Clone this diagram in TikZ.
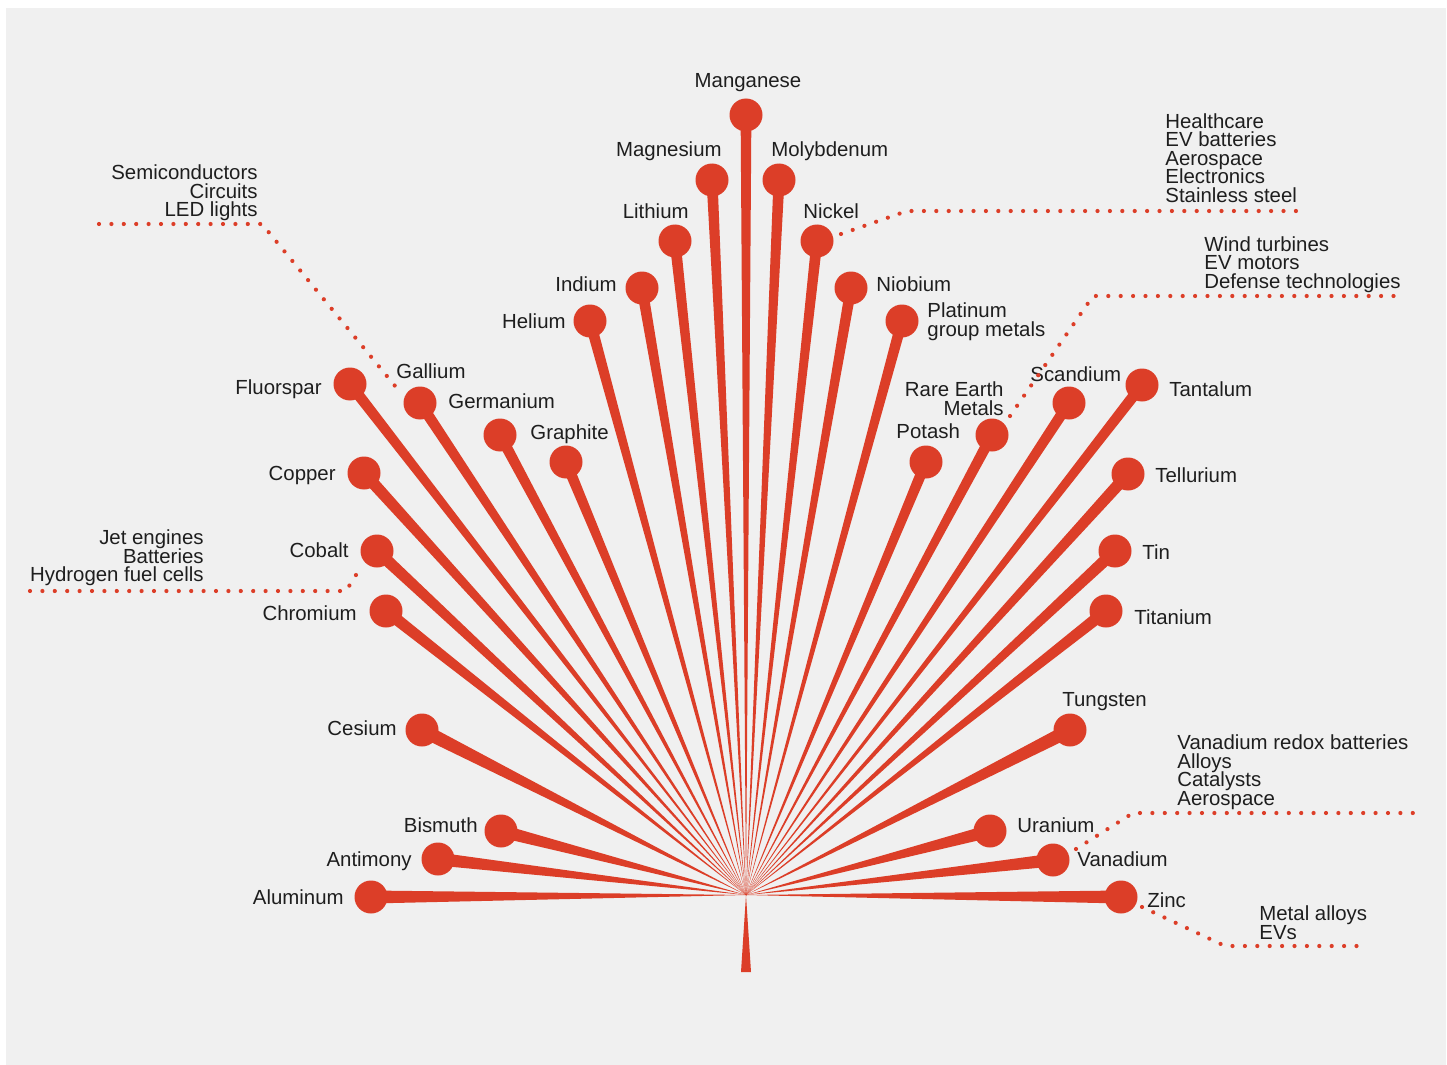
\documentclass[tikz,border=0pt]{standalone}
\usepackage{fontspec}
\setmainfont{Liberation Sans}
\usetikzlibrary{calc}
\definecolor{leafred}{RGB}{220,62,40}
\definecolor{paper}{RGB}{240,240,240}
\definecolor{ink}{RGB}{30,30,30}
\newcommand\leaffont{\fontsize{10.2pt}{9.3pt}\selectfont\lineskiplimit=-20pt\relax}

\begin{document}
\begin{tikzpicture}[x=0.5pt,y=-0.5pt,
  dot/.style={circle,fill=leafred,inner sep=0pt,minimum size=16.5pt},
  ray/.style={fill=leafred},
  lbl/.style={text=ink,inner sep=0pt,font=\leaffont},
  leader/.style={leafred,line width=2.1pt,line cap=round,dash pattern=on 0pt off 6.2pt}]
\useasboundingbox (0,0) rectangle (1447,1065);
\fill[white] (0,0) rectangle (1447,1065);
\fill[paper] (6,8) rectangle (1446,1065);

\coordinate (hub) at (746,895);
\fill[ray] (hub) -- (741,972) -- (751,972) -- cycle;

\node[dot] (mn) at (746,115) {};
\node[dot] (mg) at (712,180) {};
\node[dot] (mo) at (779,180) {};
\node[dot] (li) at (675,241) {};
\node[dot] (ni) at (817,241) {};
\node[dot] (ind) at (642,288) {};
\node[dot] (nb) at (851,288) {};
\node[dot] (he) at (590,321) {};
\node[dot] (pgm) at (902,321) {};
\node[dot] (fl) at (350,384) {};
\node[dot] (ga) at (420,403) {};
\node[dot] (ge) at (500,435) {};
\node[dot] (gr) at (566,462) {};
\node[dot] (cu) at (364,473) {};
\node[dot] (co) at (377,551) {};
\node[dot] (cr) at (386,611) {};
\node[dot] (cs) at (422,730) {};
\node[dot] (bi) at (501,831) {};
\node[dot] (sb) at (438,859) {};
\node[dot] (al) at (371,897) {};
\node[dot] (k) at (926,462) {};
\node[dot] (ree) at (992,435) {};
\node[dot] (sc) at (1069,403) {};
\node[dot] (ta) at (1142,385) {};
\node[dot] (te) at (1128,474) {};
\node[dot] (sn) at (1115,551) {};
\node[dot] (ti) at (1106,611) {};
\node[dot] (w) at (1070,730) {};
\node[dot] (u) at (990,831) {};
\node[dot] (v) at (1053,860) {};
\node[dot] (zn) at (1121,897) {};

\fill[ray] (hub) -- ($(mn.center)!2.7pt!90:(hub)$) -- ($(mn.center)!2.7pt!-90:(hub)$) -- cycle;
\fill[ray] (hub) -- ($(mg.center)!2.75pt!90:(hub)$) -- ($(mg.center)!2.75pt!-90:(hub)$) -- cycle;
\fill[ray] (hub) -- ($(mo.center)!2.75pt!90:(hub)$) -- ($(mo.center)!2.75pt!-90:(hub)$) -- cycle;
\fill[ray] (hub) -- ($(li.center)!2.75pt!90:(hub)$) -- ($(li.center)!2.75pt!-90:(hub)$) -- cycle;
\fill[ray] (hub) -- ($(ni.center)!2.75pt!90:(hub)$) -- ($(ni.center)!2.75pt!-90:(hub)$) -- cycle;
\fill[ray] (hub) -- ($(ind.center)!2.75pt!90:(hub)$) -- ($(ind.center)!2.75pt!-90:(hub)$) -- cycle;
\fill[ray] (hub) -- ($(nb.center)!2.75pt!90:(hub)$) -- ($(nb.center)!2.75pt!-90:(hub)$) -- cycle;
\fill[ray] (hub) -- ($(he.center)!2.75pt!90:(hub)$) -- ($(he.center)!2.75pt!-90:(hub)$) -- cycle;
\fill[ray] (hub) -- ($(pgm.center)!2.75pt!90:(hub)$) -- ($(pgm.center)!2.75pt!-90:(hub)$) -- cycle;
\fill[ray] (hub) -- ($(fl.center)!2.75pt!90:(hub)$) -- ($(fl.center)!2.75pt!-90:(hub)$) -- cycle;
\fill[ray] (hub) -- ($(ga.center)!2.75pt!90:(hub)$) -- ($(ga.center)!2.75pt!-90:(hub)$) -- cycle;
\fill[ray] (hub) -- ($(ge.center)!2.75pt!90:(hub)$) -- ($(ge.center)!2.75pt!-90:(hub)$) -- cycle;
\fill[ray] (hub) -- ($(gr.center)!2.75pt!90:(hub)$) -- ($(gr.center)!2.75pt!-90:(hub)$) -- cycle;
\fill[ray] (hub) -- ($(cu.center)!3pt!90:(hub)$) -- ($(cu.center)!3pt!-90:(hub)$) -- cycle;
\fill[ray] (hub) -- ($(co.center)!3pt!90:(hub)$) -- ($(co.center)!3pt!-90:(hub)$) -- cycle;
\fill[ray] (hub) -- ($(cr.center)!3pt!90:(hub)$) -- ($(cr.center)!3pt!-90:(hub)$) -- cycle;
\fill[ray] (hub) -- ($(cs.center)!3.5pt!90:(hub)$) -- ($(cs.center)!3.5pt!-90:(hub)$) -- cycle;
\fill[ray] (hub) -- ($(bi.center)!3.25pt!90:(hub)$) -- ($(bi.center)!3.25pt!-90:(hub)$) -- cycle;
\fill[ray] (hub) -- ($(sb.center)!3.25pt!90:(hub)$) -- ($(sb.center)!3.25pt!-90:(hub)$) -- cycle;
\fill[ray] (hub) -- ($(al.center)!3.25pt!90:(hub)$) -- ($(al.center)!3.25pt!-90:(hub)$) -- cycle;
\fill[ray] (hub) -- ($(k.center)!2.75pt!90:(hub)$) -- ($(k.center)!2.75pt!-90:(hub)$) -- cycle;
\fill[ray] (hub) -- ($(ree.center)!2.75pt!90:(hub)$) -- ($(ree.center)!2.75pt!-90:(hub)$) -- cycle;
\fill[ray] (hub) -- ($(sc.center)!2.75pt!90:(hub)$) -- ($(sc.center)!2.75pt!-90:(hub)$) -- cycle;
\fill[ray] (hub) -- ($(ta.center)!2.75pt!90:(hub)$) -- ($(ta.center)!2.75pt!-90:(hub)$) -- cycle;
\fill[ray] (hub) -- ($(te.center)!3pt!90:(hub)$) -- ($(te.center)!3pt!-90:(hub)$) -- cycle;
\fill[ray] (hub) -- ($(sn.center)!3pt!90:(hub)$) -- ($(sn.center)!3pt!-90:(hub)$) -- cycle;
\fill[ray] (hub) -- ($(ti.center)!3pt!90:(hub)$) -- ($(ti.center)!3pt!-90:(hub)$) -- cycle;
\fill[ray] (hub) -- ($(w.center)!3.5pt!90:(hub)$) -- ($(w.center)!3.5pt!-90:(hub)$) -- cycle;
\fill[ray] (hub) -- ($(u.center)!3.25pt!90:(hub)$) -- ($(u.center)!3.25pt!-90:(hub)$) -- cycle;
\fill[ray] (hub) -- ($(v.center)!3.25pt!90:(hub)$) -- ($(v.center)!3.25pt!-90:(hub)$) -- cycle;
\fill[ray] (hub) -- ($(zn.center)!3.25pt!90:(hub)$) -- ($(zn.center)!3.25pt!-90:(hub)$) -- cycle;

\node[lbl,anchor=base] (mn-t) at (748,88) {Manganese};
\node[lbl,anchor=base east] (mg-t) at (722,156) {Magnesium};
\node[lbl,anchor=base west] (mo-t) at (771,156) {Molybdenum};
\node[lbl,anchor=base east] (li-t) at (689,219) {Lithium};
\node[lbl,anchor=base west] (ni-t) at (803,219) {Nickel};
\node[lbl,anchor=base east] (ind-t) at (617,292) {Indium};
\node[lbl,anchor=base west] (nb-t) at (876,292) {Niobium};
\node[lbl,anchor=base east] (he-t) at (566,328) {Helium};
\node[lbl,anchor=north west,align=left] (pgm-t) at (927,302.3) {Platinum\\group metals};
\node[lbl,anchor=base east] (fl-t) at (322,394) {Fluorspar};
\node[lbl,anchor=base west] (ga-t) at (396,378) {Gallium};
\node[lbl,anchor=base west] (ge-t) at (448,408) {Germanium};
\node[lbl,anchor=base west] (gr-t) at (530,439) {Graphite};
\node[lbl,anchor=base east] (cu-t) at (336,480) {Copper};
\node[lbl,anchor=base east] (co-t) at (349,557) {Cobalt};
\node[lbl,anchor=base east] (cr-t) at (357,620) {Chromium};
\node[lbl,anchor=base east] (cs-t) at (397,735) {Cesium};
\node[lbl,anchor=base east] (bi-t) at (478,832) {Bismuth};
\node[lbl,anchor=base east] (sb-t) at (412,866) {Antimony};
\node[lbl,anchor=base east] (al-t) at (344,904) {Aluminum};
\node[lbl,anchor=north east,align=right] (ree-t) at (1004,381.3) {Rare Earth\\Metals};
\node[lbl,anchor=base west] (k-t) at (896,438) {Potash};
\node[lbl,anchor=base west] (sc-t) at (1030,381) {Scandium};
\node[lbl,anchor=base west] (ta-t) at (1169,396) {Tantalum};
\node[lbl,anchor=base west] (te-t) at (1155,482) {Tellurium};
\node[lbl,anchor=base west] (sn-t) at (1142,559) {Tin};
\node[lbl,anchor=base west] (ti-t) at (1134,624) {Titanium};
\node[lbl,anchor=base west] (w-t) at (1062,706) {Tungsten};
\node[lbl,anchor=base west] (u-t) at (1017,832) {Uranium};
\node[lbl,anchor=base west] (v-t) at (1077,866) {Vanadium};
\node[lbl,anchor=base west] (zn-t) at (1147,907) {Zinc};

\node[lbl,anchor=north east,align=right] (ga-use) at (258,164.5) {Semiconductors\\Circuits\\LED lights};
\node[lbl,anchor=north east,align=right] (co-use) at (204,529.4) {Jet engines\\Batteries\\Hydrogen fuel cells};
\node[lbl,anchor=north west,align=left] (ni-use) at (1165,113) {Healthcare\\EV batteries\\Aerospace\\Electronics\\Stainless steel};
\node[lbl,anchor=north west,align=left] (ree-use) at (1204,236) {Wind turbines\\EV motors\\Defense technologies};
\node[lbl,anchor=north west,align=left] (v-use) at (1177,734.4) {Vanadium redox batteries\\Alloys\\Catalysts\\Aerospace};
\node[lbl,anchor=north west,align=left] (zn-use) at (1259,905.4) {Metal alloys\\EVs};

\coordinate (ga-a) at (400,392);
\coordinate (ga-b) at (262,224);
\coordinate (ga-c) at (99,224);
\coordinate (co-a) at (361,567);
\coordinate (co-b) at (346,591);
\coordinate (co-c) at (30,591);
\coordinate (ni-a) at (841,234);
\coordinate (ni-b) at (907,211);
\coordinate (ni-c) at (1297,211);
\coordinate (ree-a) at (1010,416);
\coordinate (ree-b) at (1093,296);
\coordinate (ree-c) at (1398,296);
\coordinate (v-a) at (1076,849);
\coordinate (v-b) at (1133,813);
\coordinate (v-c) at (1413,813);
\coordinate (zn-a) at (1142,907);
\coordinate (zn-b) at (1225,946);
\coordinate (zn-c) at (1364,946);
\draw[leader] (ga-c) -- (ga-b) -- (ga-a);
\draw[leader] (co-c) -- (co-b) -- (co-a);
\draw[leader] (ni-a) -- (ni-b) -- (ni-c);
\draw[leader] (ree-a) -- (ree-b) -- (ree-c);
\draw[leader] (v-a) -- (v-b) -- (v-c);
\draw[leader] (zn-a) -- (zn-b) -- (zn-c);
\end{tikzpicture}
\end{document}
